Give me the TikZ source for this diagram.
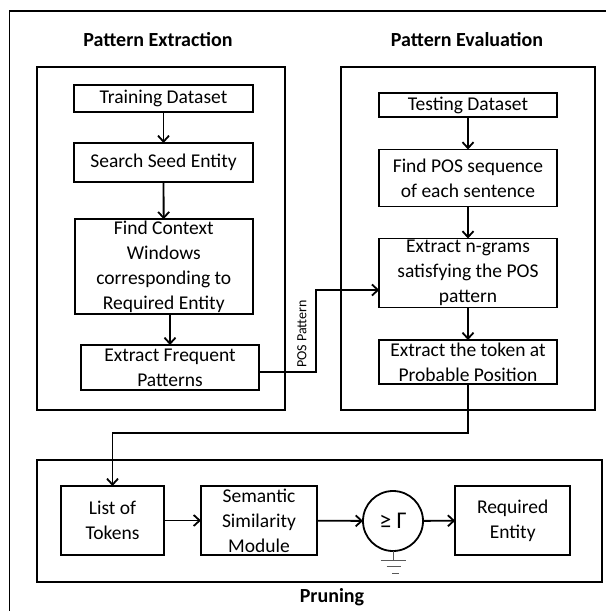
\documentclass[tikz,border=0pt]{standalone}
\usepackage{fontspec}
\setmainfont{Carlito}
\usetikzlibrary{arrows.meta}
\begin{document}
\begin{tikzpicture}[x=1pt,y=-1pt,
  box/.style={draw, line width=1.8pt, inner sep=0pt, outer sep=0pt, align=center, font=\fontsize{19.5}{25}\selectfont},
  frame/.style={draw, line width=1.8pt, inner sep=0pt, outer sep=0pt},
  arr/.style={line width=1.8pt, -{Straight Barb[length=6pt,width=11pt]}},
  ln/.style={line width=1.8pt},
  gnd/.style={line width=1pt, black!65},
  title/.style={font=\bfseries\fontsize{20}{24}\selectfont}]
\useasboundingbox (0,0) rectangle (606,611);
% outer frame (cropped)
\draw[ln] (9.5,611) -- (9.5,11) -- (606,11);
% section frames
\node[frame, minimum width=248.3pt, minimum height=343.3pt] (lframe) at (160.85,238.35) {};
\node[frame, minimum width=254pt, minimum height=343.3pt] (rframe) at (468,238.35) {};
\node[frame, minimum width=565.3pt, minimum height=121.7pt] (pframe) at (319.35,520.85) {};
% titles
\node[title] (t1) at (158,40) {Pattern Extraction};
\node[title] (t2) at (467,40) {Pattern Evaluation};
\node[title] (t3) at (332,597) {Pruning};
% left column
\node[box, minimum width=179pt, minimum height=27pt] (train) at (163.5,98.5) {Training Dataset};
\node[box, minimum width=179pt, minimum height=39pt] (seed) at (163.5,162.5) {Search Seed Entity};
\node[box, minimum width=178.4pt, minimum height=95pt] (ctx) at (163.8,266.7) {Find Context\\Windows\\corresponding to\\Required Entity};
\node[box, minimum width=178pt, minimum height=45pt] (freq) at (170,367.5) {Extract Frequent\\Patterns};
% right column
\node[box, minimum width=177.4pt, minimum height=24pt] (test) at (468,105) {Testing Dataset};
\node[box, minimum width=177.4pt, minimum height=57pt] (pos) at (468,178) {Find POS sequence\\of each sentence};
\node[box, minimum width=177.4pt, minimum height=69pt] (ngram) at (468,273) {Extract n-grams\\satisfying the POS\\pattern};
\node[box, minimum width=177.4pt, minimum height=44pt] (token) at (468,362) {Extract the token at\\Probable Position};
% pruning row
\node[box, minimum width=103pt, minimum height=69pt] (list) at (112.5,520.5) {List of\\Tokens};
\node[box, minimum width=116pt, minimum height=69pt] (sem) at (259,520.5) {Semantic\\Similarity\\Module};
\node[box, circle, minimum size=60pt, font=\fontsize{24}{26}\selectfont] (circ) at (393,521) {≥ Γ};
\node[box, minimum width=115pt, minimum height=69pt] (req) at (512.7,520.5) {Required\\Entity};
% arrows
\draw[arr] (train) -- (seed);
\draw[arr] (seed) -- (ctx);
\draw[arr] (freq.north |- ctx.south) -- (freq.north);
\draw[arr] (test) -- (pos);
\draw[arr] (pos) -- (ngram);
\draw[arr] (ngram) -- (token);
\coordinate (tb) at (468,433.3);
\draw[arr] (token) -- (tb) -| (list.north);
\coordinate (pa) at (315.7,371.7);
\coordinate (pb) at (315.7,290);
\draw[arr] (freq.east |- pa) -- (pa) -- (pb) -- (ngram.west |- pb);
\node[rotate=90, font=\fontsize{14}{16}\selectfont] (poslbl) at (302,334) {POS Pattern};
\draw[arr] (list) -- (sem);
\draw[arr] (sem) -- (circ);
\draw[arr] (circ) -- (req);
% ground symbol
\coordinate (g0) at (393,560);
\draw[gnd] (circ.south) -- (g0);
\draw[gnd] (380.7,560) -- (405.9,560);
\draw[gnd] (386.5,566.7) -- (401,566.7);
\draw[gnd] (392,573.3) -- (399,573.3);
\end{tikzpicture}
\end{document}
